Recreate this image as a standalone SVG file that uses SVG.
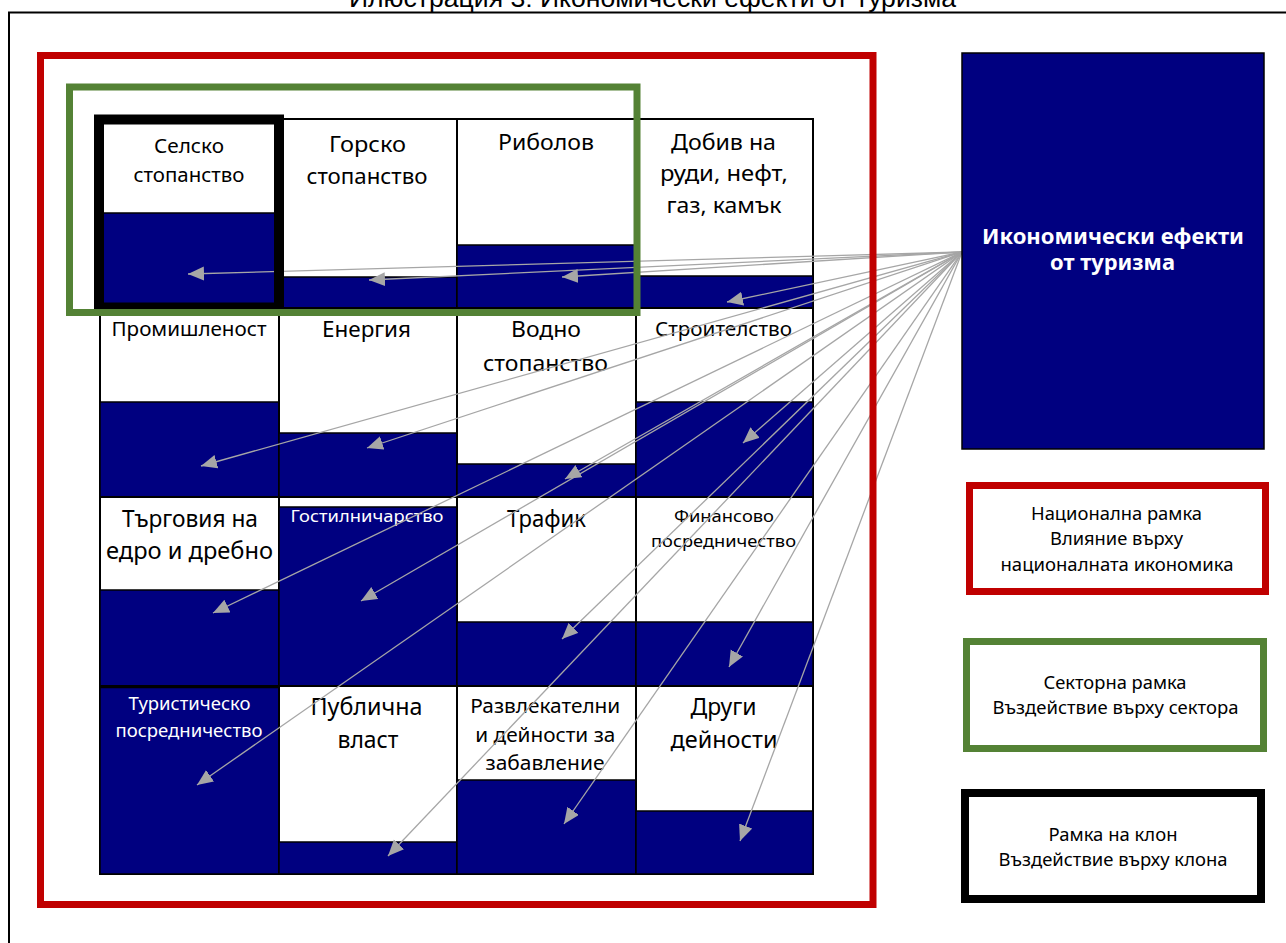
<svg xmlns="http://www.w3.org/2000/svg" width="1286" height="943" viewBox="0 0 1286 943">
<style>
.w{fill:#ffffff;stroke:#000000;stroke-width:2}
.b{fill:#000080;stroke:#000000;stroke-width:1.5}
.t{font-family:"Noto Sans","Open Sans","Liberation Sans",sans-serif;fill:#000000;text-anchor:middle}
.tw{font-family:"Noto Sans","Open Sans","Liberation Sans",sans-serif;fill:#ffffff;text-anchor:middle}
.lg{font-family:"Noto Sans","Open Sans","Liberation Sans",sans-serif;fill:#000000;text-anchor:middle;font-size:18px}
.c{stroke:#a6a6a6;stroke-width:1.3;fill:none;marker-end:url(#ah)}
</style>
<defs>
<marker id="ah" markerUnits="userSpaceOnUse" markerWidth="17" markerHeight="15" refX="16" refY="7" orient="auto">
<path d="M0,0 L16,7 L0,14 z" fill="#a6a6a6"/>
</marker>
</defs>
<rect width="1286" height="943" fill="#ffffff"/>
<g id="title">
<text x="652.5" y="7" font-family="Liberation Sans, Arial, sans-serif" font-size="26" text-anchor="middle" textLength="607" lengthAdjust="spacingAndGlyphs">Илюстрация 3: Икономически ефекти от туризма</text>
</g>
<path id="page-frame" d="M9,943 V12.5 H1286" fill="none" stroke="#000" stroke-width="2"/>

<g id="cell-selsko">
<rect class="w" x="100" y="119" width="179" height="189"/>
<rect class="b" x="100" y="213" width="179" height="95"/>
<text class="t" font-size="20"><tspan x="189" y="153" textLength="70" lengthAdjust="spacingAndGlyphs">Селско</tspan><tspan x="189" y="182" textLength="111" lengthAdjust="spacingAndGlyphs">стопанство</tspan></text>
</g>
<g id="cell-gorsko">
<rect class="w" x="279" y="119" width="178" height="189"/>
<rect class="b" x="279" y="277" width="178" height="31"/>
<text class="t" font-size="22"><tspan x="367.5" y="152" textLength="77" lengthAdjust="spacingAndGlyphs">Горско</tspan><tspan x="367" y="184" textLength="121" lengthAdjust="spacingAndGlyphs">стопанство</tspan></text>
</g>
<g id="cell-ribolov">
<rect class="w" x="457" y="119" width="179" height="189"/>
<rect class="b" x="457" y="245" width="179" height="63"/>
<text class="t" font-size="22" x="546" y="150" textLength="96" lengthAdjust="spacingAndGlyphs">Риболов</text>
</g>
<g id="cell-dobiv">
<rect class="w" x="636" y="119" width="177" height="189"/>
<rect class="b" x="636" y="276" width="177" height="32"/>
<text class="t" font-size="22"><tspan x="723.5" y="150" textLength="105" lengthAdjust="spacingAndGlyphs">Добив на</tspan><tspan x="724" y="181" textLength="128" lengthAdjust="spacingAndGlyphs">руди, нефт,</tspan><tspan x="724" y="213" textLength="115" lengthAdjust="spacingAndGlyphs">газ, камък</tspan></text>
</g>

<g id="cell-promishlenost">
<rect class="w" x="100" y="308" width="179" height="189"/>
<rect class="b" x="100" y="402" width="179" height="95"/>
<text class="t" font-size="20" x="189" y="336" textLength="155" lengthAdjust="spacingAndGlyphs">Промишленост</text>
</g>
<g id="cell-energia">
<rect class="w" x="279" y="308" width="178" height="189"/>
<rect class="b" x="279" y="433" width="178" height="64"/>
<text class="t" font-size="22" x="366.5" y="337" textLength="89" lengthAdjust="spacingAndGlyphs">Енергия</text>
</g>
<g id="cell-vodno">
<rect class="w" x="457" y="308" width="179" height="189"/>
<rect class="b" x="457" y="464" width="179" height="33"/>
<text class="t" font-size="22"><tspan x="546" y="337" textLength="70" lengthAdjust="spacingAndGlyphs">Водно</tspan><tspan x="545.5" y="371" textLength="125" lengthAdjust="spacingAndGlyphs">стопанство</tspan></text>
</g>
<g id="cell-stroitelstvo">
<rect class="w" x="636" y="308" width="177" height="189"/>
<rect class="b" x="636" y="402" width="177" height="95"/>
<text class="t" font-size="20" x="723.5" y="335.5" textLength="137" lengthAdjust="spacingAndGlyphs">Строителство</text>
</g>

<g id="cell-targovia">
<rect class="w" x="100" y="497" width="179" height="189"/>
<rect class="b" x="100" y="590" width="179" height="96"/>
<text class="t" font-size="23"><tspan x="190" y="527" textLength="136" lengthAdjust="spacingAndGlyphs">Търговия на</tspan><tspan x="189.5" y="559" textLength="167" lengthAdjust="spacingAndGlyphs">едро и дребно</tspan></text>
</g>
<g id="cell-gostilnicharstvo">
<rect class="w" x="279" y="497" width="178" height="189"/>
<rect class="b" x="279" y="507" width="178" height="179"/>
<text class="tw" font-size="17" x="367" y="521.5" textLength="153" lengthAdjust="spacingAndGlyphs">Гостилничарство</text>
</g>
<g id="cell-trafik">
<rect class="w" x="457" y="497" width="179" height="189"/>
<rect class="b" x="457" y="622" width="179" height="64"/>
<text class="t" font-size="23" x="546.5" y="527" textLength="79" lengthAdjust="spacingAndGlyphs">Трафик</text>
</g>
<g id="cell-finansovo">
<rect class="w" x="636" y="497" width="177" height="189"/>
<rect class="b" x="636" y="622" width="177" height="64"/>
<text class="t" font-size="17"><tspan x="724" y="521.5" textLength="100" lengthAdjust="spacingAndGlyphs">Финансово</tspan><tspan x="723.5" y="546.5" textLength="145" lengthAdjust="spacingAndGlyphs">посредничество</tspan></text>
</g>

<g id="cell-turistichesko">
<rect class="w" x="100" y="686" width="179" height="188"/>
<rect class="b" x="100" y="687.5" width="179" height="186.5"/>
<text class="tw" font-size="18"><tspan x="189.5" y="710" textLength="122" lengthAdjust="spacingAndGlyphs">Туристическо</tspan><tspan x="189" y="736.5" textLength="147" lengthAdjust="spacingAndGlyphs">посредничество</tspan></text>
</g>
<g id="cell-publichna">
<rect class="w" x="279" y="686" width="178" height="188"/>
<rect class="b" x="279" y="842" width="178" height="32"/>
<text class="t" font-size="23"><tspan x="366.5" y="715" textLength="112" lengthAdjust="spacingAndGlyphs">Публична</tspan><tspan x="368" y="747.5" textLength="61" lengthAdjust="spacingAndGlyphs">власт</tspan></text>
</g>
<g id="cell-razvlekatelni">
<rect class="w" x="457" y="686" width="179" height="188"/>
<rect class="b" x="457" y="780" width="179" height="94"/>
<text class="t" font-size="19"><tspan x="545.3" y="712.5" textLength="150" lengthAdjust="spacingAndGlyphs">Развлекателни</tspan><tspan x="545.3" y="741.5" textLength="140" lengthAdjust="spacingAndGlyphs">и дейности за</tspan><tspan x="545" y="770" textLength="119" lengthAdjust="spacingAndGlyphs">забавление</tspan></text>
</g>
<g id="cell-drugi">
<rect class="w" x="636" y="686" width="177" height="188"/>
<rect class="b" x="636" y="811" width="177" height="63"/>
<text class="t" font-size="23"><tspan x="723.5" y="715" textLength="66" lengthAdjust="spacingAndGlyphs">Други</tspan><tspan x="724" y="747.5" textLength="107" lengthAdjust="spacingAndGlyphs">дейности</tspan></text>
</g>

<g id="connectors">
<line class="c" x1="962" y1="252" x2="188" y2="274"/>
<line class="c" x1="962" y1="252" x2="369" y2="280"/>
<line class="c" x1="962" y1="252" x2="562" y2="277"/>
<line class="c" x1="962" y1="252" x2="727" y2="302"/>
<line class="c" x1="962" y1="252" x2="201" y2="466"/>
<line class="c" x1="962" y1="252" x2="367" y2="448"/>
<line class="c" x1="962" y1="252" x2="565" y2="479"/>
<line class="c" x1="962" y1="252" x2="743" y2="443"/>
<line class="c" x1="962" y1="252" x2="213" y2="613"/>
<line class="c" x1="962" y1="252" x2="361" y2="601"/>
<line class="c" x1="962" y1="252" x2="562" y2="639"/>
<line class="c" x1="962" y1="252" x2="729" y2="667"/>
<line class="c" x1="962" y1="252" x2="197" y2="785"/>
<line class="c" x1="962" y1="252" x2="388" y2="856"/>
<line class="c" x1="962" y1="252" x2="564" y2="824"/>
<line class="c" x1="962" y1="252" x2="740" y2="841"/>
</g>

<rect id="branch-frame" x="99" y="119.5" width="180" height="188" fill="none" stroke="#000" stroke-width="10"/>
<rect id="sector-frame" x="69.5" y="87" width="567.5" height="225.5" fill="none" stroke="#548235" stroke-width="7"/>
<rect id="national-frame" x="40.5" y="55.5" width="832.5" height="849" fill="none" stroke="#c00000" stroke-width="7"/>

<g id="source">
<rect x="962" y="53" width="302" height="396" fill="#000080" stroke="#000" stroke-width="1.5"/>
<text class="tw" font-size="21" font-weight="bold"><tspan x="1113" y="244" textLength="262" lengthAdjust="spacingAndGlyphs">Икономически ефекти</tspan><tspan x="1112.5" y="270" textLength="125" lengthAdjust="spacingAndGlyphs">от туризма</tspan></text>
</g>

<g id="legend-national">
<rect x="969.5" y="485.5" width="296" height="106" fill="#fff" stroke="#c00000" stroke-width="7"/>
<text class="lg"><tspan x="1116.5" y="520" textLength="171" lengthAdjust="spacingAndGlyphs">Национална рамка</tspan><tspan x="1116.5" y="545" textLength="133" lengthAdjust="spacingAndGlyphs">Влияние върху</tspan><tspan x="1117" y="571" textLength="233" lengthAdjust="spacingAndGlyphs">националната икономика</tspan></text>
</g>
<g id="legend-sector">
<rect x="966.5" y="641.5" width="297" height="107" fill="#fff" stroke="#548235" stroke-width="7"/>
<text class="lg"><tspan x="1115" y="689" textLength="143" lengthAdjust="spacingAndGlyphs">Секторна рамка</tspan><tspan x="1115.5" y="714" textLength="246" lengthAdjust="spacingAndGlyphs">Въздействие върху сектора</tspan></text>
</g>
<g id="legend-branch">
<rect x="965" y="793" width="296" height="106" fill="#fff" stroke="#000" stroke-width="8"/>
<text class="lg"><tspan x="1113" y="840.5" textLength="129" lengthAdjust="spacingAndGlyphs">Рамка на клон</tspan><tspan x="1113" y="866" textLength="229" lengthAdjust="spacingAndGlyphs">Въздействие върху клона</tspan></text>
</g>
</svg>
